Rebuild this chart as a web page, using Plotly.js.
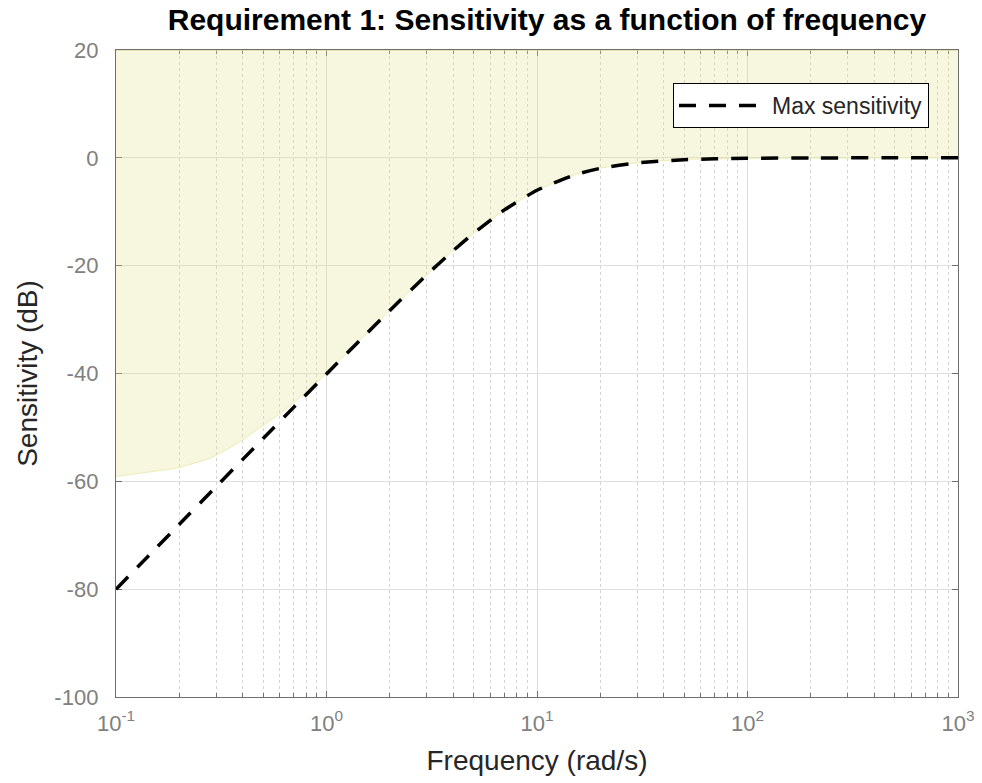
<!DOCTYPE html>
<html>
<head>
<meta charset="utf-8">
<script src="https://cdn.plot.ly/plotly-3.0.1.min.js"></script>
<style>
  html, body { margin: 0; padding: 0; background: #ffffff; }
  #chart { width: 982px; height: 783px; }
</style>
</head>
<body>
<div id="chart"></div>
<script>
// Frequencies (rad/s) and max sensitivity curve (dB)
const freq = [0.1, 0.15, 0.2, 0.3, 0.4, 0.5, 0.7, 1, 1.5, 2, 3, 4, 5, 7, 10, 15, 20, 30, 50, 70, 100, 200, 500, 1000];
const maxSensitivity = [-80.0, -72.96, -67.96, -60.92, -55.93, -52.06, -46.24, -40.09, -33.15, -28.30, -21.66, -17.21, -13.98, -9.66, -6.02, -3.19, -1.94, -0.92, -0.34, -0.18, -0.09, -0.02, 0.0, 0.0];

// Lower edge of the shaded (forbidden) region
const boundFreq = [0.1, 0.135, 0.195, 0.28, 0.335, 0.4, 0.48, 0.58, 0.7, 0.835, 1, 1.5, 2, 3, 4, 5, 7, 10, 15, 20, 30, 50, 100, 1000];
const boundDb = [-59.1, -58.4, -57.5, -55.7, -54.1, -52.3, -50.1, -47.9, -45.4, -42.7, -40.0, -33.1, -28.3, -21.7, -17.2, -14.0, -9.7, -6.0, -3.2, -1.9, -0.9, -0.3, -0.1, 0.0];
const topDb = 20;

const xTickVals = [0.1, 1, 10, 100, 1000];
const xTickText = ['10<sup>-1</sup>', '10<sup>0</sup>', '10<sup>1</sup>', '10<sup>2</sup>', '10<sup>3</sup>'];
const yTickVals = [-100, -80, -60, -40, -20, 0, 20];
const yTickText = ['-100', '-80', '-60', '-40', '-20', '0', '20'];

const titleText = 'Requirement 1: Sensitivity as a function of frequency';
const xTitle = 'Frequency (rad/s)';
const yTitle = 'Sensitivity (dB)';
const seriesName = 'Max sensitivity';

const FONT = '"Liberation Sans", Arial, Helvetica, sans-serif';

const traces = [
  {
    x: boundFreq, y: boundDb, type: 'scatter', mode: 'lines',
    line: { color: 'rgb(238,236,180)', width: 1, shape: 'spline', smoothing: 0.6 },
    showlegend: false, hoverinfo: 'skip'
  },
  {
    x: boundFreq, y: boundFreq.map(() => topDb), type: 'scatter', mode: 'lines',
    line: { color: 'rgb(222,220,160)', width: 1.5 },
    fill: 'tonexty', fillcolor: 'rgba(228,224,140,0.28)',
    showlegend: false, hoverinfo: 'skip'
  },
  {
    x: freq, y: maxSensitivity, type: 'scatter', mode: 'lines',
    name: seriesName,
    line: { color: '#000000', width: 3.5, dash: '17px,13px', shape: 'spline', smoothing: 0.5 }
  }
];

const layout = {
  width: 982, height: 783,
  margin: { l: 116, r: 24, t: 50, b: 86 },
  paper_bgcolor: '#ffffff',
  plot_bgcolor: '#ffffff',
  font: { family: FONT, size: 21, color: '#808080' },
  title: {
    text: '<b>' + titleText + '</b>',
    font: { family: FONT, size: 30, color: '#000000' },
    x: 0.557, xanchor: 'center', y: 0.975, yanchor: 'middle'
  },
  xaxis: {
    type: 'log', range: [-1, 3],
    tickmode: 'array', tickvals: xTickVals, ticktext: xTickText,
    showline: true, linecolor: '#6e6e6e', linewidth: 1.2, mirror: 'ticks',
    ticks: 'inside', ticklen: 6, tickcolor: '#6e6e6e',
    ticklabelstandoff: 6,
    showgrid: true, gridcolor: '#dedede', gridwidth: 1,
    zeroline: false, layer: 'below traces',
    tickfont: { family: FONT, size: 22, color: '#808080' },
    minor: { dtick: 'D1', ticks: 'inside', ticklen: 4, tickcolor: '#6e6e6e', showgrid: true, gridcolor: '#d4d4d4', griddash: 'dot', gridwidth: 1 },
    title: { text: xTitle, font: { family: FONT, size: 28, color: '#262626' }, standoff: 15 }
  },
  yaxis: {
    range: [-100, 20],
    tickmode: 'array', tickvals: yTickVals, ticktext: yTickText,
    showline: true, linecolor: '#6e6e6e', linewidth: 1.2, mirror: 'ticks',
    ticks: 'inside', ticklen: 6, tickcolor: '#6e6e6e',
    ticklabelstandoff: 12,
    showgrid: true, gridcolor: '#dedede', gridwidth: 1,
    zeroline: false, layer: 'below traces',
    tickfont: { family: FONT, size: 22, color: '#808080' },
    title: { text: yTitle, font: { family: FONT, size: 28, color: '#262626' }, standoff: 8 }
  },
  legend: {
    x: 0.6615, y: 0.949, xanchor: 'left', yanchor: 'top',
    bgcolor: '#ffffff', bordercolor: '#000000', borderwidth: 1,
    font: { family: FONT, size: 23, color: '#262626' },
    itemwidth: 88
  },
  showlegend: true
};

Plotly.newPlot('chart', traces, layout, { staticPlot: true, displayModeBar: false });
</script>
</body>
</html>
